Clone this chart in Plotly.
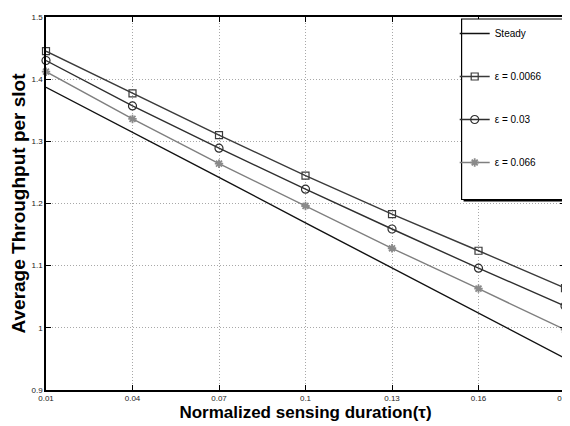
import plotly.graph_objects as go

tau = [0.01, 0.04, 0.07, 0.10, 0.13, 0.16, 0.19]
steady = [1.387, 1.315, 1.242, 1.169, 1.096, 1.024, 0.951]
eps_0066 = [1.445, 1.377, 1.310, 1.245, 1.183, 1.124, 1.064]
eps_03 = [1.430, 1.357, 1.289, 1.223, 1.159, 1.096, 1.035]
eps_066 = [1.412, 1.336, 1.264, 1.196, 1.128, 1.063, 0.997]

x_ticks = [0.01, 0.04, 0.07, 0.10, 0.13, 0.16, 0.19]
x_tick_labels = ["0.01", "0.04", "0.07", "0.1", "0.13", "0.16", "0.19"]
y_ticks = [0.9, 1.0, 1.1, 1.2, 1.3, 1.4, 1.5]
y_tick_labels = ["0.9", "1", "1.1", "1.2", "1.3", "1.4", "1.5"]

names = ["Steady", "\u03b5 = 0.0066", "\u03b5 = 0.03", "\u03b5 = 0.066"]

W, H = 570, 426
L, R, T, B = 38, 5, 8, 44

fig = go.Figure()
fig.add_trace(go.Scatter(x=tau, y=steady, mode="lines", name=names[0], cliponaxis=False,
                         line=dict(color="#111111", width=1.4), legendgroup="a"))
fig.add_trace(go.Scatter(x=tau, y=eps_0066, mode="lines+markers", name=names[1], cliponaxis=False,
                         line=dict(color="#3a3a3a", width=1.4), legendgroup="b",
                         marker=dict(symbol="square-open", size=7, color="#3a3a3a", line=dict(width=1.2))))
fig.add_trace(go.Scatter(x=tau, y=eps_03, mode="lines+markers", name=names[2], cliponaxis=False,
                         line=dict(color="#2e2e2e", width=1.4), legendgroup="c",
                         marker=dict(symbol="circle-open", size=8, color="#2e2e2e", line=dict(width=1.2))))
fig.add_trace(go.Scatter(x=tau, y=eps_066, mode="lines+markers", name=names[3], cliponaxis=False,
                         line=dict(color="#7f7f7f", width=1.4), legendgroup="d",
                         marker=dict(symbol="asterisk-open", size=7, color="#8a8a8a", line=dict(width=1.8, color="#8a8a8a"))))

tickfont = dict(family="Liberation Sans, Arial", size=8, color="#222222")

fig.update_xaxes(range=[0.0099999, 0.1900001], tickvals=x_ticks, ticktext=x_tick_labels,
                 showline=True, linecolor="black", linewidth=1.5, mirror="ticks",
                 ticks="inside", ticklen=5, tickcolor="black", ticklabeloverflow="allow",
                 showgrid=True, gridcolor="#a8a8a8", griddash="1px,2px", gridwidth=1,
                 zeroline=False, tickfont=tickfont,
                 title=dict(text="<b>Normalized sensing duration(\u03c4)</b>", standoff=4,
                            font=dict(family="Liberation Sans, Arial", size=17, color="black")))
fig.update_yaxes(range=[0.9, 1.5000001], tickvals=y_ticks, ticktext=y_tick_labels,
                 showline=True, linecolor="black", linewidth=1.5, mirror="ticks",
                 ticks="inside", ticklen=5, tickcolor="black", ticklabeloverflow="allow",
                 showgrid=True, gridcolor="#a8a8a8", griddash="1px,2px", gridwidth=1,
                 zeroline=False, tickfont=tickfont,
                 title=dict(text="<b>Average Throughput per slot</b>", standoff=3,
                            font=dict(family="Liberation Sans, Arial", size=19, color="black")))

plot_w = W - L - R
plot_h = H - T - B

def px_to_paper_x(px):
    return (px - L) / plot_w

def px_to_paper_y(py):
    return (H - B - py) / plot_h

lx0, lx1, ly0, ly1 = 460, 563, 10, 191
fig.add_shape(type="rect", xref="paper", yref="paper",
              x0=px_to_paper_x(lx0), x1=px_to_paper_x(lx1),
              y0=px_to_paper_y(ly1), y1=px_to_paper_y(ly0),
              line=dict(color="black", width=1.2), fillcolor="white", layer="above")
fig.add_shape(type="line", xref="paper", yref="paper",
              x0=px_to_paper_x(lx1 + 1), x1=px_to_paper_x(lx1 + 1),
              y0=px_to_paper_y(ly1 + 1), y1=px_to_paper_y(ly0 + 2),
              line=dict(color="black", width=2), layer="above")
fig.add_shape(type="line", xref="paper", yref="paper",
              x0=px_to_paper_x(lx0 + 2), x1=px_to_paper_x(lx1 + 1),
              y0=px_to_paper_y(ly1 + 1), y1=px_to_paper_y(ly1 + 1),
              line=dict(color="black", width=2), layer="above")

fig.update_layout(
    width=W, height=H,
    margin=dict(l=L, r=R, t=T, b=B),
    paper_bgcolor="white", plot_bgcolor="white",
    showlegend=True,
    legend=dict(x=px_to_paper_x(453), y=px_to_paper_y(10), xanchor="left", yanchor="top",
                bgcolor="rgba(0,0,0,0)", borderwidth=0, tracegroupgap=24,
                font=dict(family="Liberation Sans, Arial", size=10, color="black"),
                itemwidth=30),
)

fig.write_html("out.html")
